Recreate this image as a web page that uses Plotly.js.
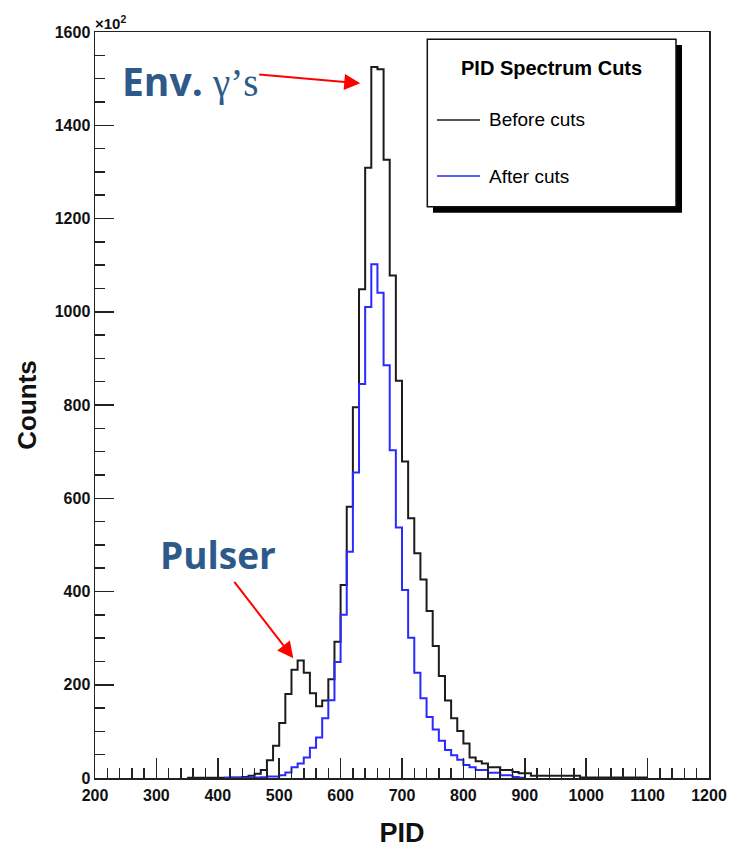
<!DOCTYPE html>
<html>
<head>
<meta charset="utf-8">
<script src="https://cdn.plot.ly/plotly-3.0.1.min.js"></script>
<style>
  html, body { margin: 0; padding: 0; background: #fff; }
  #chart { width: 734px; height: 851px; }
</style>
</head>
<body>
<div id="chart"></div>
<script>
// PID spectrum, counts in units of 10^2 per 10-channel bin (left bin edges).
const beforePID = [350, 360, 370, 380, 390, 400, 410, 420, 430, 440,
  450, 460, 470, 480, 490, 500, 510, 520, 530, 540,
  550, 560, 570, 580, 590, 600, 610, 620, 630, 640,
  650, 660, 670, 680, 690, 700, 710, 720, 730, 740,
  750, 760, 770, 780, 790, 800, 810, 820, 830, 840,
  850, 860, 870, 880, 890, 900, 910, 920, 930, 940,
  950, 960, 970, 980, 990, 1000, 1010, 1020, 1030, 1040,
  1050, 1060, 1070, 1080, 1090];
const beforeCounts = [0.6, 0.6, 0.6, 0.6, 0.6, 0.8, 0.8, 1, 1, 2,
  5, 9, 17, 38, 69, 118, 180, 232, 252, 226,
  182, 154, 166, 212, 292, 414, 582, 795, 1048, 1309,
  1525, 1520, 1326, 1078, 852, 679, 557, 482, 426, 358,
  283, 219, 166, 128, 101, 74, 44, 36, 31, 23,
  23, 17, 17, 13, 10, 10, 5, 5, 5, 5,
  5, 5, 5, 5, 1, 1, 1, 1, 1, 1,
  1, 1, 1, 1, 1];

const afterPID = [410, 420, 430, 440, 450, 460, 470, 480, 490, 500,
  510, 520, 530, 540, 550, 560, 570, 580, 590, 600,
  610, 620, 630, 640, 650, 660, 670, 680, 690, 700,
  710, 720, 730, 740, 750, 760, 770, 780, 790, 800,
  810, 820, 830, 840, 850, 860, 870, 880, 890];
const afterCounts = [0.5, 0.5, 0.5, 0.5, 0.5, 1, 1.5, 3, 3, 6,
  12, 23, 31, 44, 65, 87, 128, 167, 249, 350,
  485, 655, 845, 1010, 1102, 1041, 885, 703, 537, 403,
  301, 226, 171, 131, 104, 80, 60, 49, 39, 28,
  23, 17, 17, 11, 11, 6, 6, 2, 0.5];

const binWidth = 10;
const seriesNames = ['Before cuts', 'After cuts'];
const seriesColors = ['#1c1c1c', '#2a2aff'];

// Step outline: every left edge, plus the right edge of the last bin.
function stepTrace(edges, counts, name, color) {
  const x = edges.concat([edges[edges.length - 1] + binWidth]);
  const y = counts.concat([counts[counts.length - 1]]);
  return {
    type: 'scatter', mode: 'lines', name: name,
    x: x, y: y,
    line: { shape: 'hv', color: color, width: 2 },
    showlegend: false, hoverinfo: 'x+y'
  };
}

const traces = [
  stepTrace(beforePID, beforeCounts, seriesNames[0], seriesColors[0]),
  stepTrace(afterPID, afterCounts, seriesNames[1], seriesColors[1])
];

// Plot-area geometry in pixels, used to place the legend box.
const W = 734, H = 851;
const M = { l: 95, r: 25, t: 32, b: 73 };
const plotW = W - M.l - M.r, plotH = H - M.t - M.b;
const px = v => (v - M.l) / plotW;
const py = v => (H - M.b - v) / plotH;

const axisFont = { family: 'Liberation Sans, Arial, sans-serif', size: 16, color: '#111', weight: 'bold' };
const frameColor = '#222';
const noteBlue = '#2d5a8a';
const noteFont = 'Open Sans, Lato, sans-serif';

const layout = {
  width: W, height: H,
  margin: M,
  paper_bgcolor: '#fff', plot_bgcolor: '#fff',
  showlegend: false,
  xaxis: {
    range: [200, 1200], tick0: 200, dtick: 100,
    ticks: 'inside', ticklen: 20, tickwidth: 1.5, tickcolor: frameColor,
    minor: { dtick: 20, ticks: 'inside', ticklen: 10, tickwidth: 1.5, tickcolor: frameColor, showgrid: false },
    showline: true, linecolor: frameColor, linewidth: 1.5, mirror: true,
    showgrid: false, zeroline: false,
    tickfont: axisFont, ticklabelstandoff: 2,
    title: { text: 'PID', font: { family: axisFont.family, size: 27, color: '#111', weight: 'bold' }, standoff: 20 }
  },
  yaxis: {
    range: [0, 1600], tick0: 0, dtick: 200,
    ticks: 'inside', ticklen: 19, tickwidth: 1.5, tickcolor: frameColor,
    minor: { dtick: 50, ticks: 'inside', ticklen: 10, tickwidth: 1.5, tickcolor: frameColor, showgrid: false },
    showline: true, linecolor: frameColor, linewidth: 1.5, mirror: true,
    showgrid: false, zeroline: false,
    tickfont: axisFont,
    title: { text: 'Counts', font: { family: axisFont.family, size: 26, color: '#111', weight: 'bold' }, standoff: 10 }
  },
  shapes: [
    // legend shadow and box
    { type: 'rect', xref: 'paper', yref: 'paper', layer: 'above',
      x0: px(433), x1: px(682), y0: py(212.7), y1: py(45),
      fillcolor: '#000', line: { width: 0 } },
    { type: 'rect', xref: 'paper', yref: 'paper', layer: 'above',
      x0: px(427.3), x1: px(676), y0: py(206.7), y1: py(39.3),
      fillcolor: '#fff', line: { color: '#111', width: 1.5 } },
    // legend line samples
    { type: 'line', xref: 'paper', yref: 'paper', layer: 'above',
      x0: px(437), x1: px(480), y0: py(120), y1: py(120),
      line: { color: seriesColors[0], width: 1.5 } },
    { type: 'line', xref: 'paper', yref: 'paper', layer: 'above',
      x0: px(437), x1: px(480), y0: py(176), y1: py(176),
      line: { color: seriesColors[1], width: 1.5 } }
  ],
  annotations: [
    // axis multiplier
    { xref: 'paper', yref: 'paper', x: 0, y: 1, xanchor: 'left', yanchor: 'bottom',
      text: '×10<sup>2</sup>', showarrow: false, xshift: -2, yshift: -2,
      font: { family: axisFont.family, size: 15, color: '#111', weight: 'bold' } },
    // legend texts
    { xref: 'paper', yref: 'paper', x: px(551.7), y: py(68), xanchor: 'center', yanchor: 'middle',
      text: 'PID Spectrum Cuts', showarrow: false,
      font: { family: axisFont.family, size: 20, color: '#000', weight: 'bold' } },
    { xref: 'paper', yref: 'paper', x: px(487), y: py(120), xanchor: 'left', yanchor: 'middle',
      text: seriesNames[0], showarrow: false,
      font: { family: axisFont.family, size: 19, color: '#000' } },
    { xref: 'paper', yref: 'paper', x: px(487), y: py(176), xanchor: 'left', yanchor: 'middle',
      text: seriesNames[1], showarrow: false,
      font: { family: axisFont.family, size: 19, color: '#000' } },
    // peak labels
    { xref: 'x', yref: 'y', x: 240, y: 1496, xanchor: 'left', yanchor: 'middle',
      text: '<b>Env.</b> <span style="font-family:Liberation Serif, serif">γ’s</span>', showarrow: false,
      font: { family: noteFont, size: 39, color: noteBlue } },
    { xref: 'x', yref: 'y', x: 632, y: 1490, ax: 465, ay: 1509, axref: 'x', ayref: 'y',
      text: '', showarrow: true, arrowcolor: '#ff0000', arrowwidth: 2, arrowhead: 2, arrowsize: 1.6, standoff: 0 },
    { xref: 'x', yref: 'y', x: 401, y: 480, xanchor: 'center', yanchor: 'middle',
      text: '<b>Pulser</b>', showarrow: false,
      font: { family: noteFont, size: 37, color: noteBlue } },
    { xref: 'x', yref: 'y', x: 523, y: 257, ax: 425, ay: 424, axref: 'x', ayref: 'y',
      text: '', showarrow: true, arrowcolor: '#ff0000', arrowwidth: 2, arrowhead: 2, arrowsize: 1.6, standoff: 0 }
  ]
};

Plotly.newPlot('chart', traces, layout, { staticPlot: true, displayModeBar: false });
</script>
</body>
</html>
